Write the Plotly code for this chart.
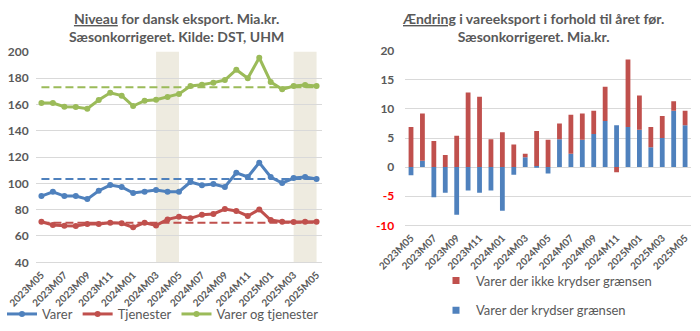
import plotly.graph_objects as go

W, H = 700, 331

months = ["2023M05","2023M06","2023M07","2023M08","2023M09","2023M10","2023M11","2023M12",
          "2024M01","2024M02","2024M03","2024M04","2024M05","2024M06","2024M07","2024M08",
          "2024M09","2024M10","2024M11","2024M12","2025M01","2025M02","2025M03","2025M04","2025M05"]
tick_labels = ["2023M05","2023M07","2023M09","2023M11","2024M01","2024M03","2024M05",
               "2024M07","2024M09","2024M11","2025M01","2025M03","2025M05"]

varer = [90.3, 93.6, 90.3, 90.3, 88.0, 94.4, 98.7, 97.2, 92.6, 93.6, 94.9, 93.6, 93.6,
         101.0, 98.5, 99.5, 97.2, 108.0, 104.8, 115.7, 104.8, 100.2, 104.0, 104.8, 103.3]
tjenester = [70.8, 68.3, 67.8, 67.5, 69.1, 69.1, 70.1, 69.6, 66.6, 70.1, 68.0, 72.6, 74.6,
             73.4, 76.2, 76.7, 80.4, 79.0, 75.2, 80.2, 72.1, 70.8, 70.6, 70.8, 70.8]
total = [161.0, 161.0, 158.2, 158.0, 156.7, 163.3, 168.8, 166.6, 158.7, 162.8, 163.5, 165.6,
         167.9, 173.9, 174.9, 176.5, 178.5, 186.3, 179.8, 195.4, 177.0, 171.4, 173.9, 174.7, 173.9]
varer_avg = 103.3
tjenester_avg = 70.1
total_avg = 173.0
shade_periods = [("2024M03", "2024M05"), ("2025M03", "2025M05")]

krydser = [-1.4, 1.1, -5.2, -4.4, -8.2, -4.0, -4.4, -4.0, -7.5, -1.3, 1.7, 0.2, -1.1,
           4.8, 2.3, 4.7, 5.7, 7.9, 7.2, 6.9, 6.4, 3.4, 5.0, 9.7, 7.2]
ikke_krydser = [6.9, 8.1, 4.5, 2.1, 5.4, 12.8, 12.1, 4.8, 6.0, 3.9, 0.6, 6.0, 4.7,
                2.7, 6.7, 4.5, 4.0, 5.9, -0.9, 11.6, 5.9, 3.5, 3.8, 1.6, 2.5]
right_ticks = [-10, -5, 0, 5, 10, 15, 20]

BLUE, RED, GREEN = "#4F81BD", "#C0504D", "#9BBB59"
GRAY = "#595959"
GRID = "#D9D9D9"
FONT = "Lato"

fig = go.Figure()

for name, vals, col in [("Varer", varer, BLUE), ("Tjenester", tjenester, RED),
                        ("Varer og tjenester", total, GREEN)]:
    fig.add_trace(go.Scatter(x=months, y=vals, name=name, mode="lines+markers",
                             line=dict(color=col, width=3), marker=dict(size=6, color=col),
                             xaxis="x", yaxis="y", legend="legend"))
for avg, col in [(varer_avg, BLUE), (tjenester_avg, RED), (total_avg, GREEN)]:
    fig.add_trace(go.Scatter(x=[months[0], months[-1]], y=[avg, avg], mode="lines",
                             line=dict(color=col, width=2, dash="8px,4px"),
                             showlegend=False, xaxis="x", yaxis="y", hoverinfo="skip"))

fig.add_trace(go.Bar(x=months, y=krydser, name="Varer der krydser grænsen",
                     marker=dict(color=BLUE, line=dict(width=0)), showlegend=False,
                     xaxis="x2", yaxis="y2"))
fig.add_trace(go.Bar(x=months, y=ikke_krydser, name="Varer der ikke krydser grænsen",
                     marker=dict(color=RED, line=dict(width=0)), showlegend=False,
                     xaxis="x2", yaxis="y2"))
# legend entries with small squares
for name, col, grp in [("Varer der ikke krydser grænsen", RED, "a"),
                       ("Varer der krydser grænsen", BLUE, "b")]:
    fig.add_trace(go.Scatter(x=[None], y=[None], mode="markers", name=name,
                             marker=dict(symbol="square", size=7, color=col),
                             xaxis="x2", yaxis="y2", legend="legend2", legendgroup=grp))

shapes = []
for a, b in shade_periods:
    shapes.append(dict(type="rect", xref="x", yref="y domain", x0=a, x1=b, y0=0, y1=1,
                       fillcolor="#EEEBE0", line=dict(width=0), layer="below"))

def ytext(v):
    if v < 0:
        return f'<span style="color:#FF0000">{v}</span>'
    return str(v)

tickfont = dict(family=FONT, size=12, color=GRAY, weight="bold")
xtickfont = dict(family=FONT, size=10, color=GRAY, weight="bold")

fig.update_layout(
    width=W, height=H, margin=dict(l=0, r=0, t=0, b=0, autoexpand=False),
    paper_bgcolor="white", plot_bgcolor="white",
    barmode="relative", bargap=0.58,
    shapes=shapes,
    xaxis=dict(domain=[35.7 / W, 322.3 / W], type="category", range=[-0.5, 24.5],
               tickvals=tick_labels, ticktext=tick_labels, tickangle=-45, tickfont=xtickfont,
               showgrid=False, showline=True, linecolor=GRID, ticks="", anchor="y",
               automargin=False, ticklabelstandoff=2),
    yaxis=dict(domain=[1 - 262.3 / H, 1 - 51.7 / H], range=[40, 200], dtick=20,
               tickfont=tickfont, gridcolor=GRID, showline=False, zeroline=False,
               ticks="", anchor="x", ticklabelstandoff=6, automargin=False),
    xaxis2=dict(domain=[405.3 / W, 690.8 / W], type="category", range=[-0.5, 24.5],
                tickvals=tick_labels, ticktext=tick_labels, tickangle=-45, tickfont=xtickfont,
                showgrid=False, showline=True, linecolor=GRID, ticks="", anchor="y2",
                automargin=False, ticklabelstandoff=2),
    yaxis2=dict(domain=[1 - 225.3 / H, 1 - 50.7 / H], range=[-10, 20],
                tickvals=right_ticks, ticktext=[ytext(v) for v in right_ticks],
                tickfont=tickfont, gridcolor=GRID, zeroline=False, ticks="", anchor="x2",
                ticklabelstandoff=10, automargin=False),
    legend=dict(orientation="h", x=163 / W, xanchor="center", y=1 - 314 / H, yanchor="middle",
                font=dict(family=FONT, size=13, color=GRAY), bgcolor="rgba(0,0,0,0)"),
    legend2=dict(orientation="v", x=436 / W, xanchor="left", y=1 - 295.5 / H, yanchor="middle",
                 font=dict(family=FONT, size=13, color=GRAY), bgcolor="rgba(0,0,0,0)",
                 tracegroupgap=10),
    showlegend=True,
    annotations=[
        dict(text="<u>Niveau</u> for dansk eksport. Mia.kr.<br>Sæsonkorrigeret. Kilde: DST, UHM",
             x=177 / W, y=1 - 8 / H, xref="paper", yref="paper", xanchor="center", yanchor="top",
             showarrow=False, font=dict(family=FONT, size=14, color=GRAY, weight="bold")),
        dict(text="<u>Ændring</u> i vareeksport i forhold til året før.<br>Sæsonkorrigeret. Mia.kr.",
             x=533 / W, y=1 - 8 / H, xref="paper", yref="paper", xanchor="center", yanchor="top",
             showarrow=False, font=dict(family=FONT, size=14, color=GRAY, weight="bold")),
    ],
)

fig.write_html("out.html")
